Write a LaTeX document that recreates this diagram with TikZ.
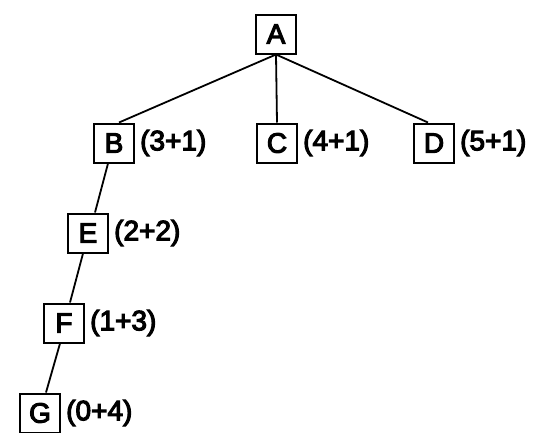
\documentclass[tikz,border=0pt]{standalone}
\usepackage{fontspec}
\setmainfont{Liberation Sans}[FakeBold=4]
\begin{document}
\begin{tikzpicture}[x=1pt,y=-1pt,
  vbox/.style={draw,line width=2pt,minimum width=40pt,minimum height=39pt,inner sep=0pt,font=\fontsize{28}{28}\selectfont},
  cost/.style={anchor=west,inner sep=0pt,xshift=5pt,font=\fontsize{28}{28}\selectfont},
  edge/.style={line width=1.8pt}]
\useasboundingbox (0,0) rectangle (547,432);
\clip (0,0) rectangle (547,432);
% tree nodes
\node[vbox] (A) at (276,34) {A};
\node[vbox] (B) at (114,143) {B};
\node[vbox] (C) at (277,143) {C};
\node[vbox] (D) at (434,143) {D};
\node[vbox] (E) at (88,233) {E};
\node[vbox] (F) at (64,323) {F};
\node[vbox] (G) at (40,413) {G};
% cost labels
\node[cost] (lB) at (B.east) {(3+1)};
\node[cost] (lC) at (C.east) {(4+1)};
\node[cost] (lD) at (D.east) {(5+1)};
\node[cost] (lE) at (E.east) {(2+2)};
\node[cost] (lF) at (F.east) {(1+3)};
\node[cost] (lG) at (G.east) {(0+4)};
% edges
\draw[edge] (A.south) -- ([xshift=5pt]B.north);
\draw[edge] (A.south) -- (C.north);
\draw[edge] (A.south) -- ([xshift=-6pt]D.north);
\draw[edge] ([xshift=-6pt]B.south) -- ([xshift=7pt]E.north);
\draw[edge] ([xshift=-5pt]E.south) -- ([xshift=6pt]F.north);
\draw[edge] ([xshift=-4pt]F.south) -- ([xshift=6pt]G.north);
\end{tikzpicture}
\end{document}
